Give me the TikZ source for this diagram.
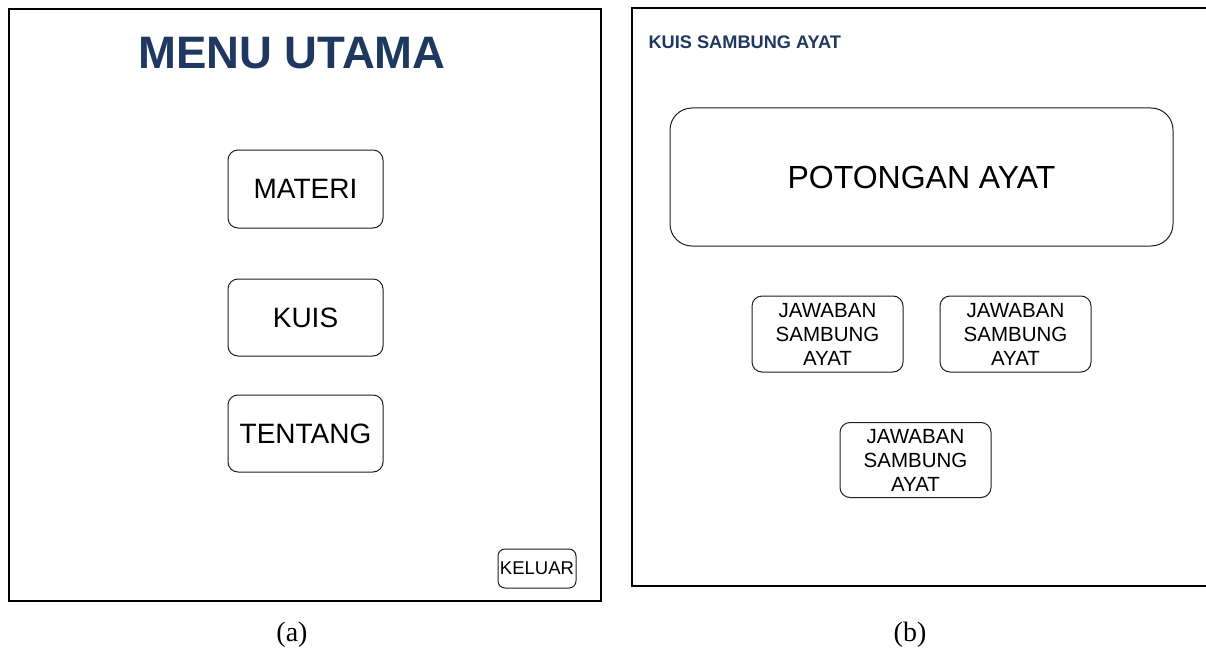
\documentclass[tikz,border=0pt]{standalone}
\usepackage{fontspec}
\setmainfont{Liberation Serif}
\setsansfont{Liberation Sans}
\definecolor{navy}{RGB}{31,56,96}
\definecolor{edge}{RGB}{30,30,30}
\tikzset{
  frameline/.style={draw=black, line width=1.1pt},
  btn/.style={draw=edge, line width=1pt, rounded corners=10pt, rectangle, inner sep=0pt, align=center, font=\sffamily},
}
\begin{document}
\begin{tikzpicture}[x=1pt,y=-1pt]
\useasboundingbox (0,0) rectangle (1206,650);
% left frame
\draw[frameline] (9,9) rectangle (601,601);
\node[font=\sffamily\bfseries\fontsize{45.5}{48}\selectfont, text=navy] (title) at (292,53) {MENU UTAMA};
\node[btn, minimum width=155pt, minimum height=78pt, font=\sffamily\fontsize{28}{30}\selectfont] (materi) at (305.5,189) {MATERI};
\node[btn, minimum width=155pt, minimum height=77pt, font=\sffamily\fontsize{28}{30}\selectfont] (kuis) at (305.5,317.5) {KUIS};
\node[btn, minimum width=155pt, minimum height=77pt, font=\sffamily\fontsize{28}{30}\selectfont] (tentang) at (305.5,433.5) {TENTANG};
\node[btn, rounded corners=7pt, minimum width=78pt, minimum height=39pt, font=\sffamily\fontsize{18.5}{20}\selectfont] (keluar) at (537,568.5) {KELUAR};
\node[font=\fontsize{28}{30}\selectfont] (capa) at (292,635) {(a)};
% right frame
\draw[frameline] (1206,8) -- (632,8) -- (632,586) -- (1206,586);
\node[anchor=west, font=\sffamily\bfseries\fontsize{18.2}{20}\selectfont, text=navy] (title2) at (645,42) {KUIS SAMBUNG AYAT};
\node[btn, rounded corners=22pt, minimum width=503pt, minimum height=138pt, font=\sffamily\fontsize{32}{34}\selectfont] (potongan) at (921.5,177) {POTONGAN AYAT};
\node[btn, minimum width=151pt, minimum height=76pt, font=\sffamily\fontsize{20.5}{24}\selectfont] (jaw1) at (827.5,334) {JAWABAN\\SAMBUNG\\AYAT};
\node[btn, minimum width=151pt, minimum height=76pt, font=\sffamily\fontsize{20.5}{24}\selectfont] (jaw2) at (1015.5,334) {JAWABAN\\SAMBUNG\\AYAT};
\node[btn, minimum width=151pt, minimum height=75pt, font=\sffamily\fontsize{20.5}{24}\selectfont] (jaw3) at (915.5,460) {JAWABAN\\SAMBUNG\\AYAT};
\node[font=\fontsize{28}{30}\selectfont] (capb) at (910,635) {(b)};
\end{tikzpicture}
\end{document}
